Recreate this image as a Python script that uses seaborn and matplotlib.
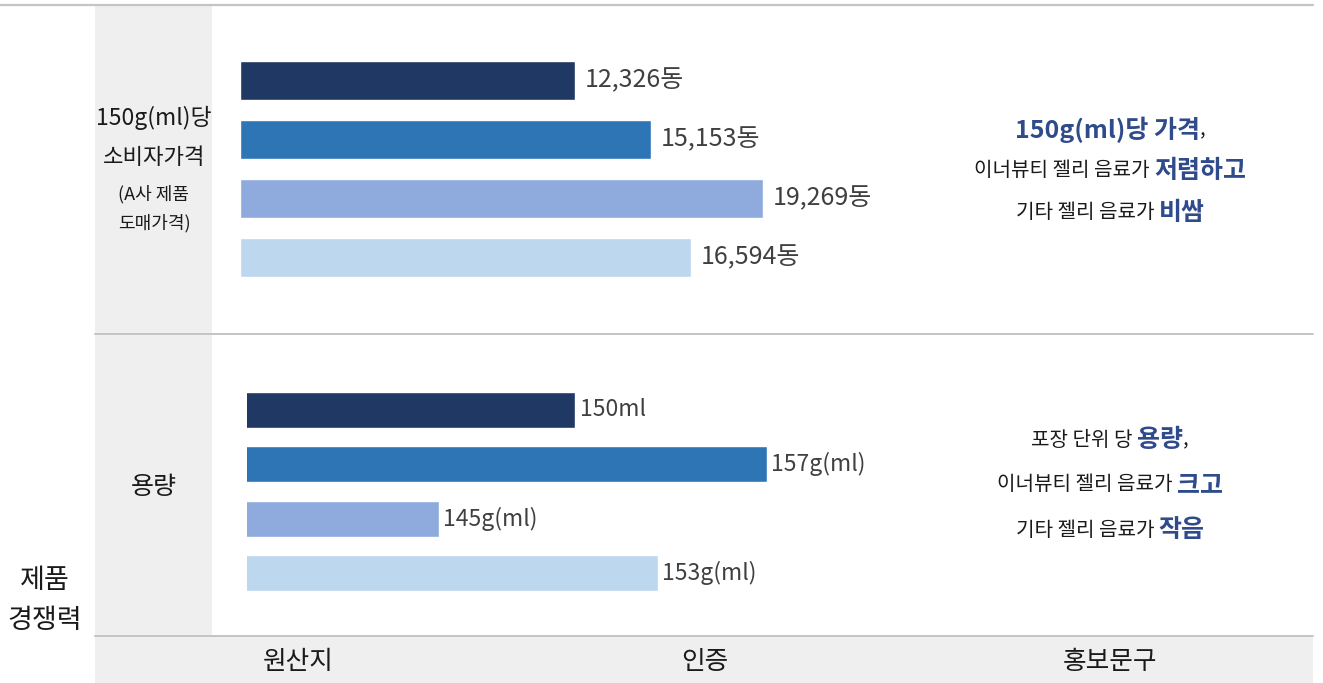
import matplotlib
matplotlib.use("Agg")
import matplotlib.pyplot as plt
import seaborn as sns
import pandas as pd
from matplotlib.patches import Rectangle
from matplotlib.lines import Line2D

# ---------------- data ----------------
products = ["A사 제품", "이너뷰티 젤리 음료 1", "기타 젤리 음료 1", "기타 젤리 음료 2"]
price_values = [12326, 15153, 19269, 16594]
price_unit = "동"
volume_values = [150, 157, 145, 153]
volume_labels = ["150ml", "157g(ml)", "145g(ml)", "153g(ml)"]
bar_colors = ["#203864", "#2E75B6", "#8FAADC", "#BDD7EE"]

row_title_1 = ["150g(ml)당", "소비자가격"]
row_note_1 = ["(A사 제품", "도매가격)"]
row_title_2 = "용량"
group_title = ["제품", "경쟁력"]
col_titles = ["원산지", "인증", "홍보문구"]

sns.set_theme(style="white")
plt.rcParams["font.family"] = ["Noto Sans CJK KR", "DejaVu Sans"]

W, H = 1323, 683
fig = plt.figure(figsize=(W / 100, H / 100), dpi=100)

def fx(px):
    return px / W

def fy(py):
    return 1 - py / H

GRAY = "#EFEFEF"
LINE = "#C4C4C4"
BLUE = "#2F4B8C"
TXT = "#1A1A1A"

# backgrounds
fig.add_artist(Rectangle((fx(95), fy(636)), fx(212) - fx(95), fy(5) - fy(636),
                         transform=fig.transFigure, color=GRAY, zorder=0, lw=0))
fig.add_artist(Rectangle((fx(95), fy(683)), fx(1313) - fx(95), fy(636) - fy(683),
                         transform=fig.transFigure, color=GRAY, zorder=0, lw=0))
# lines
fig.add_artist(Line2D([fx(0), fx(1313)], [fy(5), fy(5)], transform=fig.transFigure,
                      color=LINE, lw=1.6, zorder=1))
fig.add_artist(Line2D([fx(95), fx(1313)], [fy(333.5), fy(333.5)], transform=fig.transFigure,
                      color=LINE, lw=1.4, zorder=1))
fig.add_artist(Line2D([fx(95), fx(1313)], [fy(636), fy(636)], transform=fig.transFigure,
                      color=LINE, lw=1.4, zorder=1))

# ---------------- top panel: price ----------------
ax1_l, ax1_r = 240, 900
ax1_t, ax1_b = 80.5 - 29.5, 257.5 + 29.5
ax1 = fig.add_axes([fx(ax1_l), fy(ax1_b), fx(ax1_r) - fx(ax1_l), fy(ax1_t) - fy(ax1_b)])
df1 = pd.DataFrame({"product": products, "value": price_values})
sns.barplot(data=df1, x="value", y="product", hue="product", palette=bar_colors,
            order=products, hue_order=products, legend=False, width=0.66,
            orient="h", ax=ax1, saturation=1)
px_per_unit1 = 0.027154
ax1.set_xlim(0, (ax1_r - ax1_l) / px_per_unit1)
ax1.set_ylim(3.5, -0.5)
for i, cont in enumerate(ax1.containers):
    ax1.bar_label(cont, labels=[f"{price_values[i]:,}{price_unit}"], padding=7,
                  fontsize=18, color="#404040")

# ---------------- bottom panel: volume ----------------
ax2_l, ax2_r = 247, 900
ax2_t, ax2_b = 410 - 27.2, 573 + 27.2
ax2 = fig.add_axes([fx(ax2_l), fy(ax2_b), fx(ax2_r) - fx(ax2_l), fy(ax2_t) - fy(ax2_b)])
df2 = pd.DataFrame({"product": products, "value": volume_values})
sns.barplot(data=df2, x="value", y="product", hue="product", palette=bar_colors,
            order=products, hue_order=products, legend=False, width=0.66,
            orient="h", ax=ax2, saturation=1)
px_per_unit2 = 27.37
xmin2 = 138
ax2.set_xlim(xmin2, xmin2 + (ax2_r - ax2_l) / px_per_unit2)
ax2.set_ylim(3.5, -0.5)
for i, cont in enumerate(ax2.containers):
    ax2.bar_label(cont, labels=[volume_labels[i]], padding=3, fontsize=16.5, color="#404040")

for ax in (ax1, ax2):
    ax.set_axis_off()
    ax.patch.set_alpha(0)

# ---------------- left texts ----------------
fig.text(fx(154), fy(118), row_title_1[0], ha="center", va="center", fontsize=16.5, color=TXT)
fig.text(fx(154), fy(157), row_title_1[1], ha="center", va="center", fontsize=16, color=TXT)
fig.text(fx(154), fy(194), row_note_1[0], ha="center", va="center", fontsize=13, color=TXT)
fig.text(fx(154), fy(223), row_note_1[1], ha="center", va="center", fontsize=13, color=TXT)
fig.text(fx(154), fy(487), row_title_2, ha="center", va="center", fontsize=18, color=TXT)
fig.text(fx(45), fy(580), group_title[0], ha="center", va="center", fontsize=19.5, color=TXT)
fig.text(fx(45), fy(621), group_title[1], ha="center", va="center", fontsize=19.5, color=TXT)

for name, x in zip(col_titles, [298, 705, 1110]):
    fig.text(fx(x), fy(662), name, ha="center", va="center", fontsize=18.5, color=TXT)

# ---------------- right mixed-style texts ----------------
renderer = fig.canvas.get_renderer()

def rich_line(cx, cy, parts):
    arts = []
    for s, style in parts:
        if style == "b":
            t = fig.text(0, fy(cy), s, ha="left", va="center", fontsize=18,
                         fontweight="bold", color=BLUE)
        else:
            t = fig.text(0, fy(cy), s, ha="left", va="center", fontsize=14.5, color=TXT)
        arts.append(t)
    widths = [a.get_window_extent(renderer).width for a in arts]
    total = sum(widths)
    x = cx - total / 2
    for a, w in zip(arts, widths):
        a.set_x(fx(x))
        x += w

rich_line(1110, 130, [("150g(ml)당 가격", "b"), (",", "n")])
rich_line(1110, 171, [("이너뷰티 젤리 음료가 ", "n"), ("저렴하고", "b")])
rich_line(1110, 213, [("기타 젤리 음료가 ", "n"), ("비쌈", "b")])
rich_line(1110, 440, [("포장 단위 당 ", "n"), ("용량", "b"), (",", "n")])
rich_line(1110, 485, [("이너뷰티 젤리 음료가 ", "n"), ("크고", "b")])
rich_line(1110, 530, [("기타 젤리 음료가 ", "n"), ("작음", "b")])

fig.savefig("out.png", dpi=100)
